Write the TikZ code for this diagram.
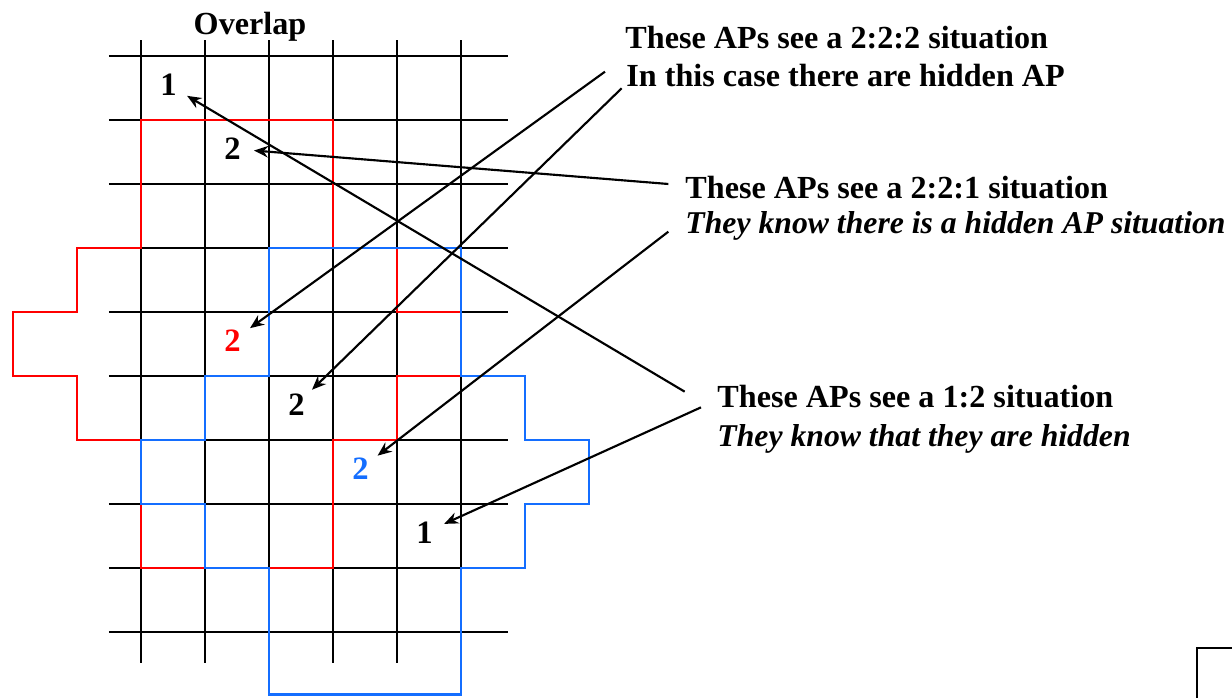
\documentclass[tikz,border=0pt]{standalone}
\usepackage{fontspec}
\setmainfont{Liberation Serif}
\usepackage{tikz}
\usetikzlibrary{arrows.meta,positioning}
\definecolor{apred}{RGB}{255,0,0}
\definecolor{apblu}{RGB}{20,110,255}
\tikzset{
  cellgrid/.style={black,line width=1.1pt},
  redzone/.style={apred,line width=1.3pt},
  bluezone/.style={apblu,line width=1.3pt},
  num/.style={circle,inner sep=0pt,minimum size=0.66cm,font=\fontsize{14.5}{16}\selectfont\bfseries},
  lbl/.style={anchor=base west,inner sep=0pt,font=\fontsize{14.3}{16}\selectfont\bfseries},
  lblit/.style={lbl,font=\fontsize{14.1}{16}\selectfont\bfseries\itshape},
  ptr/.style={-{Stealth[length=2.2mm,width=1.8mm]},line width=0.95pt}
}

\begin{document}
\begin{tikzpicture}
\useasboundingbox (-2.203,-1.016) rectangle (17.047,9.875);
% rejilla
\foreach \x in {0,...,5}{
  \draw[cellgrid] (\x,-0.48) -- (\x,9.25);}
\foreach \y in {0,...,9}{
  \draw[cellgrid] (-0.5,\y) -- (5.73,\y);}
% zona roja
\draw[redzone] (0,8) -- (3,8) -- (3,6) -- (4,6) -- (4,5) -- (5,5) -- (5,4)
  -- (4,4) -- (4,3) -- (3,3) -- (3,1) -- (0,1) -- (0,3) -- (-1,3) -- (-1,4)
  -- (-2,4) -- (-2,5) -- (-1,5) -- (-1,6) -- (0,6) -- cycle;
% zona azul
\draw[bluezone] (2,6) -- (5,6) -- (5,4) -- (6,4) -- (6,3) -- (7,3) -- (7,2)
  -- (6,2) -- (6,1) -- (5,1) -- (5,-0.98) -- (2,-0.98) -- (2,1) -- (1,1)
  -- (1,2) -- (0,2) -- (0,3) -- (1,3) -- (1,4) -- (2,4) -- cycle;
% numeros
\node[num] (n1) at (0.43,8.55) {1};
\node[num] (n2) at (1.43,7.55) {2};
\node[num,text=apred] (r2) at (1.43,4.55) {2};
\node[num] (k2) at (2.43,3.55) {2};
\node[num,text=apblu] (b2) at (3.43,2.55) {2};
\node[num] (m1) at (4.43,1.55) {1};
% textos
\node[lbl] (ov) at (0.817,9.34) {Overlap};
\node[lbl] (t1a) at (7.5625,9.12) {These APs see a 2:2:2 situation};
\node[lbl] (t1b) at (7.578,8.52) {In this case there are hidden AP};
\node[lbl] (t2a) at (8.5,6.777) {These APs see a 2:2:1 situation};
\node[lblit] (t2b) at (8.5,6.23) {They know there is a hidden AP situation};
\node[lbl] (t3a) at (9.0,3.5) {These APs see a 1:2 situation};
\node[lblit] (t3b) at (9.0,2.895) {They know that they are hidden};
% flechas
\coordinate (s1) at (7.25,8.755);
\coordinate (s2) at (7.51,8.495);
\coordinate (s3) at (8.24,7.0);
\coordinate (s4) at (8.24,6.255);
\coordinate (s5) at (8.495,3.755);
\coordinate (s6) at (8.75,3.51);
\draw[ptr] (s1) -- (r2);
\draw[ptr] (s2) -- (k2);
\draw[ptr] (s3) -- (n2);
\draw[ptr] (s4) -- (b2);
\draw[ptr] (s5) -- (n1);
\draw[ptr] (s6) -- (m1);
% esquina
\draw[cellgrid] (16.5,-1.1) -- (16.5,-0.25) -- (17.2,-0.25);
\end{tikzpicture}
\end{document}
